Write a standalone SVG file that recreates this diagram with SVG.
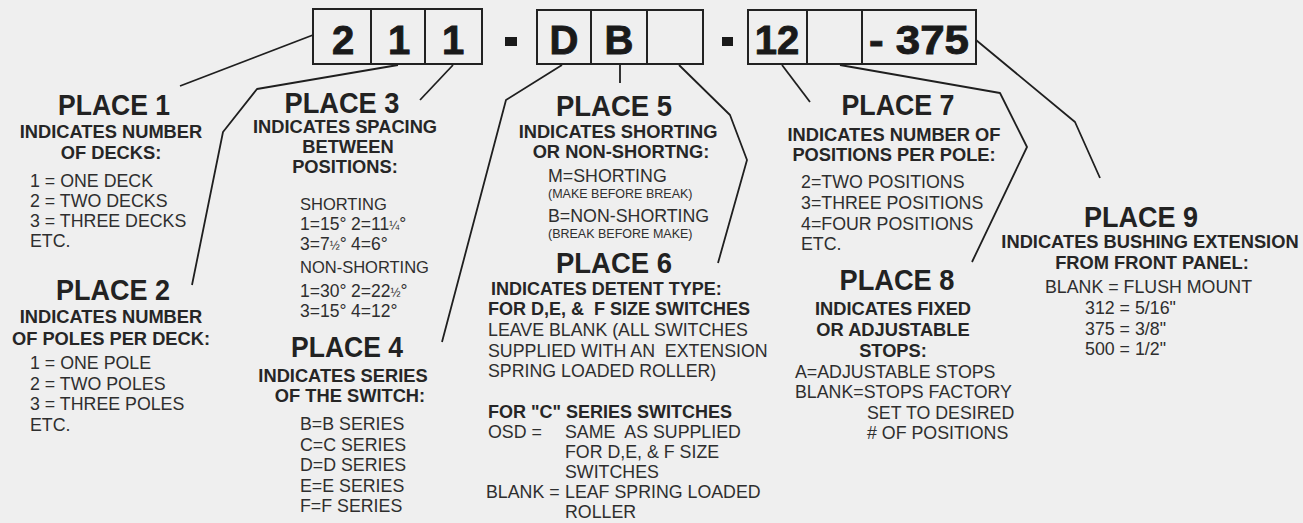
<svg xmlns="http://www.w3.org/2000/svg" width="1303" height="523" viewBox="0 0 1303 523">
<style>
text{font-family:"Liberation Sans",Arial,Helvetica,sans-serif}
.h{font-weight:bold;font-size:29px;fill:#222;text-anchor:middle}
.s{font-weight:bold;font-size:18.3px;fill:#262626;text-anchor:middle}
.b{font-weight:bold;font-size:18px;fill:#262626;white-space:pre}
.r{font-size:17.8px;fill:#2e2e2e;white-space:pre}
.v{font-size:17.5px;fill:#2e2e2e}
.fr{font-size:12px}
.sm{font-size:12.5px;fill:#2e2e2e}
.d{font-weight:bold;font-size:40px;fill:#1a1a1a;stroke:#1a1a1a;stroke-width:0.9;text-anchor:middle}
.box{fill:none;stroke:#222;stroke-width:2}
.conn{fill:none;stroke:#1f1f1f;stroke-width:1.8;stroke-linejoin:round}
</style>
<rect x="0" y="0" width="1303" height="523" fill="#efefef"/>

<g id="code">
  <rect class="box" x="313" y="9" width="169" height="55"/>
  <line class="box" x1="371" y1="9" x2="371" y2="64"/>
  <line class="box" x1="425" y1="9" x2="425" y2="64"/>
  <text class="d" x="343" y="54">2</text>
  <text class="d" x="399" y="54">1</text>
  <text class="d" x="453" y="54">1</text>
  <rect x="505" y="37" width="12" height="9" fill="#1a1a1a"/>
  <rect class="box" x="537" y="10" width="166" height="54"/>
  <line class="box" x1="591" y1="10" x2="591" y2="64"/>
  <line class="box" x1="647" y1="10" x2="647" y2="64"/>
  <text class="d" x="564" y="54">D</text>
  <text class="d" x="619" y="54">B</text>
  <rect x="722" y="37" width="11" height="9" fill="#1a1a1a"/>
  <rect class="box" x="748" y="10" width="228" height="54"/>
  <line class="box" x1="807" y1="10" x2="807" y2="64"/>
  <line class="box" x1="862" y1="10" x2="862" y2="64"/>
  <text class="d" x="777" y="54">12</text>
  <text class="d" x="919" y="54" textLength="100" lengthAdjust="spacingAndGlyphs">- 375</text>
</g>

<g id="connectors">
  <polyline class="conn" points="313,35 180,86"/>
  <polyline class="conn" points="398,65 257,89 223,132 192,285"/>
  <polyline class="conn" points="453,65 420,100"/>
  <polyline class="conn" points="562,65 506,100 442,342"/>
  <polyline class="conn" points="620,65 620,83"/>
  <polyline class="conn" points="679,65 730,115 747,160 718,263"/>
  <polyline class="conn" points="782,65 810,102"/>
  <polyline class="conn" points="840,65 1000,93 1027,147 972,262"/>
  <polyline class="conn" points="976,40 1075,122 1100,178"/>
</g>

<g id="place1">
  <text class="h" x="114" y="115" textLength="112" lengthAdjust="spacingAndGlyphs">PLACE 1</text>
  <text class="s" x="111" y="138">INDICATES NUMBER</text>
  <text class="s" x="111" y="159">OF DECKS:</text>
  <text class="r" x="30" y="187">1 = ONE DECK</text>
  <text class="r" x="30" y="207">2 = TWO DECKS</text>
  <text class="r" x="30" y="227">3 = THREE DECKS</text>
  <text class="r" x="30" y="247">ETC.</text>
</g>

<g id="place2">
  <text class="h" x="113" y="300" textLength="114" lengthAdjust="spacingAndGlyphs">PLACE 2</text>
  <text class="s" x="111" y="323">INDICATES NUMBER</text>
  <text class="s" x="111" y="345">OF POLES PER DECK:</text>
  <text class="r" x="30" y="369">1 = ONE POLE</text>
  <text class="r" x="30" y="390">2 = TWO POLES</text>
  <text class="r" x="30" y="410">3 = THREE POLES</text>
  <text class="r" x="30" y="431">ETC.</text>
</g>

<g id="place3">
  <text class="h" x="342" y="113" textLength="115" lengthAdjust="spacingAndGlyphs">PLACE 3</text>
  <text class="s" x="345" y="133">INDICATES SPACING</text>
  <text class="s" x="348" y="153">BETWEEN</text>
  <text class="s" x="345" y="173">POSITIONS:</text>
  <text class="r" x="300" y="210" style="font-size:16.5px">SHORTING</text>
  <text class="v" x="300" y="230">1=15°</text>
  <text class="v" x="351" y="230">2=11<tspan class="fr">¼</tspan>°</text>
  <text class="v" x="300" y="250">3=7<tspan class="fr">½</tspan>°</text>
  <text class="v" x="351" y="250">4=6°</text>
  <text class="r" x="300" y="273" style="font-size:16.5px">NON-SHORTING</text>
  <text class="v" x="300" y="297">1=30°</text>
  <text class="v" x="351" y="297">2=22<tspan class="fr">½</tspan>°</text>
  <text class="v" x="300" y="317">3=15°</text>
  <text class="v" x="351" y="317">4=12°</text>
</g>

<g id="place4">
  <text class="h" x="347" y="357" textLength="112" lengthAdjust="spacingAndGlyphs">PLACE 4</text>
  <text class="s" x="343" y="382">INDICATES SERIES</text>
  <text class="s" x="350" y="402">OF THE SWITCH:</text>
  <text class="r" x="300" y="430">B=B SERIES</text>
  <text class="r" x="300" y="451">C=C SERIES</text>
  <text class="r" x="300" y="471">D=D SERIES</text>
  <text class="r" x="300" y="492">E=E SERIES</text>
  <text class="r" x="300" y="512">F=F SERIES</text>
</g>

<g id="place5">
  <text class="h" x="614" y="116" textLength="116" lengthAdjust="spacingAndGlyphs">PLACE 5</text>
  <text class="s" x="618" y="138">INDICATES SHORTING</text>
  <text class="s" x="621" y="158">OR NON-SHORTNG:</text>
  <text class="r" x="548" y="182">M=SHORTING</text>
  <text class="sm" x="548" y="198">(MAKE BEFORE BREAK)</text>
  <text class="r" x="548" y="222">B=NON-SHORTING</text>
  <text class="sm" x="548" y="238">(BREAK BEFORE MAKE)</text>
</g>

<g id="place6">
  <text class="h" x="614" y="273" textLength="116" lengthAdjust="spacingAndGlyphs">PLACE 6</text>
  <text class="b" x="491" y="295">INDICATES DETENT TYPE:</text>
  <text class="b" x="488" y="315">FOR D,E, &amp;  F SIZE SWITCHES</text>
  <text class="r" x="488" y="336">LEAVE BLANK (ALL SWITCHES</text>
  <text class="r" x="488" y="357">SUPPLIED WITH AN  EXTENSION</text>
  <text class="r" x="488" y="377">SPRING LOADED ROLLER)</text>
  <text class="b" x="488" y="418">FOR "C" SERIES SWITCHES</text>
  <text class="r" x="488" y="438">OSD =</text>
  <text class="r" x="565" y="438">SAME  AS SUPPLIED</text>
  <text class="r" x="565" y="458">FOR D,E, &amp; F SIZE</text>
  <text class="r" x="565" y="478">SWITCHES</text>
  <text class="r" x="486" y="498">BLANK =</text>
  <text class="r" x="565" y="498">LEAF SPRING LOADED</text>
  <text class="r" x="565" y="518">ROLLER</text>
</g>

<g id="place7">
  <text class="h" x="898" y="115" textLength="113" lengthAdjust="spacingAndGlyphs">PLACE 7</text>
  <text class="s" x="894" y="141">INDICATES NUMBER OF</text>
  <text class="s" x="894" y="161">POSITIONS PER POLE:</text>
  <text class="r" x="801" y="188">2=TWO POSITIONS</text>
  <text class="r" x="801" y="209">3=THREE POSITIONS</text>
  <text class="r" x="801" y="230">4=FOUR POSITIONS</text>
  <text class="r" x="801" y="250">ETC.</text>
</g>

<g id="place8">
  <text class="h" x="897" y="290" textLength="115" lengthAdjust="spacingAndGlyphs">PLACE 8</text>
  <text class="s" x="893" y="315">INDICATES FIXED</text>
  <text class="s" x="893" y="336">OR ADJUSTABLE</text>
  <text class="s" x="893" y="357">STOPS:</text>
  <text class="r" x="795" y="378">A=ADJUSTABLE STOPS</text>
  <text class="r" x="795" y="398">BLANK=STOPS FACTORY</text>
  <text class="r" x="867" y="419">SET TO DESIRED</text>
  <text class="r" x="867" y="439"># OF POSITIONS</text>
</g>

<g id="place9">
  <text class="h" x="1141" y="227" textLength="114" lengthAdjust="spacingAndGlyphs">PLACE 9</text>
  <text class="s" x="1150" y="248">INDICATES BUSHING EXTENSION</text>
  <text class="s" x="1152" y="269">FROM FRONT PANEL:</text>
  <text class="r" x="1045" y="293">BLANK = FLUSH MOUNT</text>
  <text class="r" x="1085" y="314">312 = 5/16"</text>
  <text class="r" x="1085" y="335">375 = 3/8"</text>
  <text class="r" x="1085" y="355">500 = 1/2"</text>
</g>
</svg>
